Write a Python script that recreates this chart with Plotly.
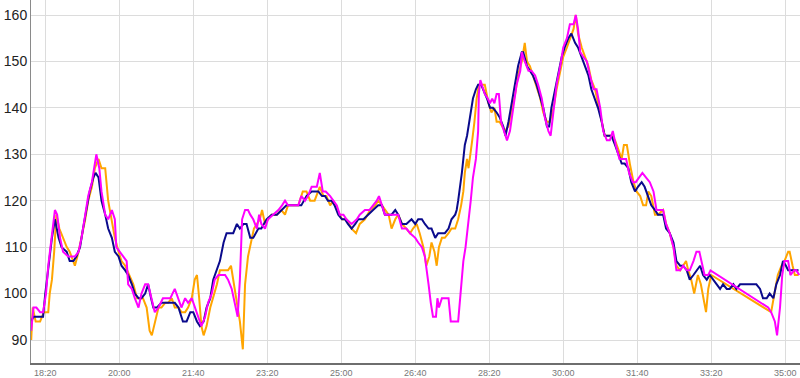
import plotly.graph_objects as go

# ---- data (time in seconds, heart-rate values) ----
navy_t = [1081,1084,1087,1093,1097,1100,1104,1109,1113,1118,
          1122,1129,1133,1138,1142,1147,1151,1156,1160,1165,
          1168,1172,1176,1181,1185,1190,1194,1199,1203,1208,
          1212,1217,1221,1226,1230,1235,1239,1243,1246,1251,
          1257,1266,1275,1280,1286,1291,1296,1300,1305,1309,
          1314,1318,1323,1327,1332,1336,1341,1345,1350,1354,
          1359,1363,1368,1372,1377,1381,1388,1392,1399,1406,
          1413,1419,1426,1433,1440,1446,1453,1460,1464,1469,
          1474,1478,1482,1487,1491,1496,1501,1505,1509,1514,
          1519,1523,1530,1536,1543,1550,1555,1559,1564,1568,
          1573,1577,1582,1588,1595,1600,1604,1609,1613,1618,
          1622,1627,1631,1636,1640,1645,1649,1654,1656,1658,
          1661,1663,1665,1667,1670,1672,1675,1678,1682,1685,
          1689,1692,1697,1701,1705,1710,1714,1719,1722,1726,
          1730,1735,1739,1744,1746,1751,1755,1759,1764,1769,
          1773,1778,1781,1784,1789,1793,1798,1802,1807,1811,
          1816,1820,1825,1829,1834,1838,1843,1847,1852,1856,
          1861,1865,1870,1874,1879,1883,1888,1892,1897,1901,
          1906,1910,1915,1919,1924,1928,1930,1935,1939,1944,
          1949,1953,1958,1962,1967,1971,1976,1980,1985,1989,
          1994,1998,2003,2007,2012,2016,2021,2025,2030,2034,
          2039,2043,2048,2052,2057,2061,2066,2070,2075,2079,
          2084,2088,2093,2097,2101,2104,2109,2113,2118]
navy_v = [94,95,95,95,95,100,106,112,116,112,
          110,109,107,107,108,110,114,119,122,125,
          126,125,120,117,114,112,109,108,106,105,
          104,102,100,99,99,100,102,99,97,97,
          98,98,98,97,94,94,96,96,94,93,
          94,97,99,103,105,107,111,113,113,113,
          115,114,115,115,112,112,114,114,116,117,
          117,118,119,119,119,119,121,122,122,122,
          121,121,120,120,119,117,116,116,115,114,
          115,116,116,117,118,119,119,117,117,117,
          118,117,115,115,116,115,116,116,115,114,
          114,112,113,113,113,114,116,117,118,120,
          123,126,129,132,134,136,139,142,144,145,
          145,144,142,140,140,139,138,136,134,137,
          141,145,149,152,152,149,148,147,145,142,
          140,136,136,140,144,147,151,153,155,156,
          154,153,151,149,147,144,142,140,137,134,
          134,134,132,130,128,128,127,124,122,123,
          124,123,121,119,118,117,117,117,114,113,
          111,107,106,106,105,103,104,105,106,104,
          103,104,103,102,101,102,101,101,102,101,
          102,102,102,102,102,102,101,99,99,100,
          99,102,104,107,106,105,105,105,105]

orange_t = [1081,1083,1087,1093,1098,1104,1106,1109,1112,1115,
            1119,1124,1129,1133,1140,1145,1149,1154,1158,1163,
            1167,1172,1176,1181,1185,1190,1194,1199,1203,1208,
            1214,1219,1224,1228,1232,1237,1241,1244,1248,1253,
            1257,1262,1266,1271,1275,1280,1284,1289,1293,1298,
            1302,1305,1308,1311,1314,1318,1323,1327,1332,1336,
            1341,1347,1351,1354,1359,1363,1367,1370,1374,1379,
            1382,1386,1390,1393,1397,1401,1406,1413,1419,1424,
            1428,1435,1442,1448,1453,1458,1464,1471,1476,1480,
            1485,1489,1495,1501,1507,1514,1520,1525,1532,1539,
            1546,1550,1555,1559,1564,1568,1573,1577,1582,1588,
            1593,1597,1602,1606,1611,1615,1619,1622,1626,1629,
            1632,1636,1640,1645,1649,1654,1658,1662,1665,1667,
            1670,1672,1674,1677,1680,1683,1686,1691,1694,1699,
            1703,1707,1710,1714,1718,1721,1726,1730,1735,1739,
            1744,1748,1751,1755,1759,1764,1769,1773,1778,1782,
            1787,1791,1796,1800,1805,1809,1814,1817,1820,1825,
            1829,1834,1838,1843,1847,1852,1856,1861,1865,1870,
            1874,1879,1882,1886,1890,1895,1899,1904,1908,1912,
            1915,1919,1924,1928,1935,1939,1944,1949,1953,1958,
            1962,1966,1969,1973,1977,1982,1986,1990,1993,1996,
            2000,2081,2086,2090,2095,2099,2104,2106,2110,2113,
            2118]
orange_v = [90,97,94,94,96,96,100,103,109,117,
            114,112,110,109,106,109,112,116,120,123,
            127,129,127,127,120,116,112,109,107,106,
            104,102,99,99,99,97,92,91,94,97,
            97,98,98,99,97,97,96,96,97,99,
            103,104,99,93,91,93,97,99,102,105,
            105,105,106,103,99,94,88,102,108,112,
            114,115,116,118,115,116,117,117,118,117,
            119,119,119,122,122,120,120,123,121,121,
            119,120,118,116,116,114,113,115,116,118,
            119,120,119,118,117,114,116,117,115,114,
            113,114,115,113,110,106,108,111,109,106,
            110,112,112,113,114,114,116,119,122,126,
            129,127,129,133,137,142,145,145,145,141,
            139,140,137,137,136,135,136,139,143,147,
            150,154,150,149,147,145,142,139,137,137,
            140,144,148,151,153,155,157,160,156,153,
            151,149,146,144,141,137,134,134,134,133,
            131,129,132,132,128,124,122,121,119,119,
            122,121,117,117,118,115,113,110,106,105,
            106,107,105,103,100,104,102,99,96,101,
            104,96,100,104,106,107,109,109,106,104,
            104]

magenta_t = [1081,1084,1088,1093,1097,1101,1104,1109,1113,1116,
             1120,1124,1131,1136,1140,1145,1149,1154,1158,1163,
             1167,1169,1173,1176,1181,1185,1190,1194,1196,1201,
             1205,1210,1212,1217,1221,1226,1230,1235,1239,1244,
             1248,1253,1259,1264,1269,1275,1280,1284,1289,1293,
             1298,1302,1307,1311,1316,1320,1325,1329,1334,1338,
             1343,1347,1352,1356,1360,1363,1366,1370,1374,1377,
             1381,1386,1389,1392,1397,1401,1408,1415,1420,1424,
             1428,1435,1442,1446,1451,1455,1460,1467,1471,1475,
             1479,1485,1489,1494,1498,1503,1507,1514,1521,1525,
             1532,1538,1543,1548,1551,1555,1559,1564,1570,1577,
             1582,1588,1593,1600,1604,1609,1613,1615,1618,1621,
             1624,1628,1630,1632,1636,1645,1648,1658,1661,1663,
             1665,1668,1672,1675,1678,1682,1685,1686,1688,1690,
             1694,1698,1701,1704,1707,1710,1713,1716,1720,1724,
             1728,1733,1737,1742,1744,1748,1753,1757,1762,1766,
             1771,1775,1780,1783,1787,1791,1796,1800,1805,1809,
             1814,1817,1820,1823,1827,1832,1836,1841,1845,1850,
             1854,1859,1863,1867,1871,1876,1880,1885,1889,1894,
             1898,1903,1907,1912,1917,1922,1926,1931,1935,1939,
             1944,1949,1953,1958,1962,1967,1971,1976,1980,1984,
             1987,1991,1996,1999,2077,2081,2086,2089,2093,2096,
             2099,2104,2107,2112,2115,2119]
magenta_v = [92,97,97,96,96,100,106,113,118,117,
             112,109,108,108,108,109,112,117,121,124,
             128,130,127,122,117,116,118,116,110,109,
             108,107,102,101,99,97,100,102,102,99,
             96,97,99,99,99,101,99,97,99,98,
             99,97,95,93,95,98,100,103,104,104,
             104,103,101,98,95,103,116,118,118,117,
             116,114,117,115,114,116,117,118,119,120,
             119,119,119,121,120,121,123,123,126,122,
             122,121,120,119,117,117,116,115,116,117,
             118,118,119,120,121,119,117,117,117,117,
             114,114,113,112,111,110,108,105,102,98,
             95,95,99,97,99,99,94,94,99,102,
             107,110,115,120,125,129,135,143,146,145,
             143,142,141,142,141,143,143,137,135,133,
             135,140,145,148,152,150,148,148,147,145,
             142,138,135,134,140,145,149,153,155,158,
             158,160,157,152,151,150,147,144,144,140,
             135,133,133,135,132,129,129,129,126,124,
             124,125,126,125,124,122,118,118,118,115,
             113,110,105,105,106,105,105,107,109,109,
             107,104,104,105,97,96,94,91,97,104,
             107,107,104,105,105,104]

tick_vals = [1100, 1200, 1300, 1400, 1500, 1600, 1700, 1800, 1900, 2000, 2100]
tick_text = ["18:20", "20:00", "21:40", "23:20", "25:00", "26:40",
             "28:20", "30:00", "31:40", "33:20", "35:00"]
y_ticks = [90, 100, 110, 120, 130, 140, 150, 160]

fig = go.Figure()
fig.add_trace(go.Scatter(x=orange_t, y=orange_v, mode="lines",
                         line=dict(color="#ffa500", width=2), name="orange"))
fig.add_trace(go.Scatter(x=navy_t, y=navy_v, mode="lines",
                         line=dict(color="#0a0a8c", width=2), name="navy"))
fig.add_trace(go.Scatter(x=magenta_t, y=magenta_v, mode="lines",
                         line=dict(color="#ff00ff", width=2), name="magenta"))

fig.update_layout(
    width=800, height=378,
    margin=dict(l=31, r=0, t=0, b=15),
    paper_bgcolor="white", plot_bgcolor="white",
    showlegend=False,
    font=dict(family="Liberation Sans, Arial, sans-serif"),
)
fig.update_xaxes(
    range=[1080.7, 2120], tickvals=tick_vals, ticktext=tick_text,
    showgrid=True, gridcolor="#dcdcdc", gridwidth=1,
    showline=True, linecolor="#6e6e6e", linewidth=2,
    ticks="", tickfont=dict(size=9, color="#777777"), zeroline=False,
)
fig.update_yaxes(
    range=[85.05, 163.23], tickvals=y_ticks,
    showgrid=True, gridcolor="#dcdcdc", gridwidth=1,
    showline=True, linecolor="#8a8a8a", linewidth=1,
    ticks="", tickfont=dict(size=14, color="#222222"), zeroline=False,
)

fig.write_html("out.html")
